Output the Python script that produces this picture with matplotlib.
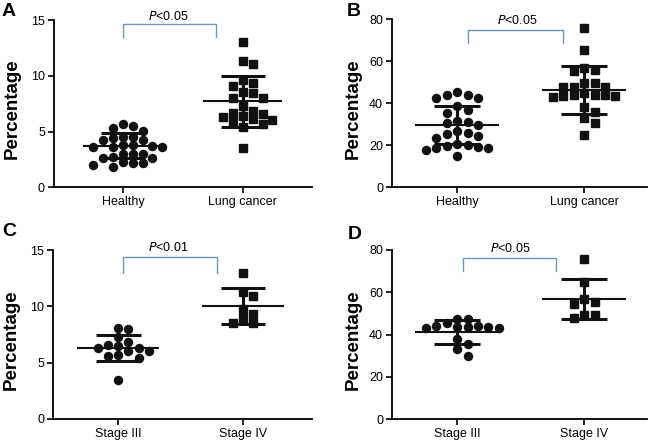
import numpy as np
import matplotlib.pyplot as plt

plt.rcParams['font.family'] = ['Liberation Sans', 'DejaVu Sans']

# categories
groups_ab = ['Healthy', 'Lung cancer']
groups_cd = ['Stage III', 'Stage IV']

# percentages
a_healthy = [5.65, 5.5, 5.35, 5.05, 4.55, 4.5, 4.4, 4.25, 4.25, 3.75, 3.75, 3.7,
             3.65, 3.65, 3.65, 3.0, 3.0, 2.95, 2.7, 2.65, 2.6, 2.25, 2.2, 2.15,
             2.0, 1.85]
a_lung = [13.05, 11.35, 11.05, 9.65, 9.35, 9.05, 8.55, 8.5, 8.0, 8.0, 7.25, 6.85,
          6.65, 6.6, 6.4, 6.3, 6.1, 6.05, 5.9, 5.7, 5.4, 3.5]
b_healthy = [45.5, 43.9, 43.9, 42.5, 42.5, 38.7, 36.8, 35.2, 31.6, 31.0, 30.5,
             29.5, 26.8, 25.7, 25.2, 24.5, 23.5, 20.5, 20.2, 19.7, 19.4, 18.9,
             18.5, 17.8, 14.9]
b_lung = [75.7, 65.4, 57.0, 55.9, 55.5, 49.5, 49.5, 47.9, 47.9, 47.9, 45.1, 43.9,
          43.9, 43.9, 43.5, 43.3, 43.1, 38.4, 36.0, 33.1, 30.5, 24.9]
c_stage3 = [8.1, 8.0, 7.25, 6.8, 6.6, 6.45, 6.3, 6.3, 6.05, 6.0, 5.65, 5.6, 5.4, 3.5]
c_stage4 = [13.0, 11.3, 10.9, 9.75, 9.3, 9.0, 8.55, 8.5]
d_stage3 = [47.5, 47.5, 45.5, 44.0, 44.0, 43.5, 43.5, 43.5, 43.0, 43.0, 38.0,
            35.5, 33.0, 30.0]
d_stage4 = [75.5, 65.0, 57.0, 55.5, 54.5, 49.0, 49.0, 47.8]

# mean and SD bars as drawn
a_mean, a_sd = [3.73, 7.72], [1.12, 2.27]
b_mean, b_sd = [29.6, 46.3], [9.2, 11.5]
c_mean, c_sd = [6.3, 10.03], [1.18, 1.58]
d_mean, d_sd = [41.1, 56.7], [5.65, 9.45]

p_texts = ['<0.05', '<0.05', '<0.01', '<0.05']

BLUE = '#6b97c9'


def swarm(values, step, gap):
    # greedy column placement, GraphPad-like
    values = np.asarray(values, float)
    offs = np.zeros(len(values))
    placed = []
    for i in np.argsort(values)[::-1]:
        y = values[i]
        for k in [0, 1, -1, 2, -2, 3, -3, 4, -4, 5, -5]:
            if all(abs(y - py) >= gap for c, py in placed if c == k):
                break
        placed.append((k, y))
        offs[i] = k * step
    return offs


def panel(rect, letter, letter_xy, groups, data, means, sds, ymax, xlim,
          bracket, ptext, text_xy, ylab_x):
    ax = fig.add_axes(rect)
    gap = 0.05 * ymax
    for i, (vals, marker) in enumerate(zip(data, ['o', 's'])):
        x = i + swarm(vals, 0.082, gap)
        ax.plot(x, vals, linestyle='none', marker=marker, color='#111111',
                markersize=5.8 if marker == 'o' else 5.2, zorder=3)
        m, s = means[i], sds[i]
        ax.hlines(m, i - 0.33, i + 0.33, color='#111111', lw=1.5, zorder=4)
        ax.vlines(i, m - s, m + s, color='#111111', lw=2.2, zorder=4)
        ax.hlines([m - s, m + s], i - 0.18, i + 0.18, color='#111111', lw=2.2,
                  zorder=4)

    x0, x1, ytop, ybot = bracket
    ax.plot([x0, x0, x1, x1], [ybot, ytop, ytop, ybot], color=BLUE, lw=1.0,
            clip_on=False)
    ax.text(text_xy[0], text_xy[1], r'$\it{P}$' + ptext, ha='center',
            va='center', fontsize=9, clip_on=False)

    ax.set_xlim(*xlim)
    ax.set_ylim(0, ymax)
    ax.set_yticks(np.linspace(0, ymax, 4 if ymax == 15 else 5))
    ax.set_xticks([0, 1])
    ax.set_xticklabels(groups)
    for side in ['top', 'right']:
        ax.spines[side].set_visible(False)
    for side in ['left', 'bottom']:
        ax.spines[side].set_linewidth(1.3)
    ax.tick_params(direction='out', length=4, width=1.2, labelsize=9, pad=2.5)
    ax.set_ylabel('Percentage', fontsize=13.5, fontweight='bold')
    ax.yaxis.set_label_coords(ylab_x, 0.47)
    fig.text(letter_xy[0] / 648, 1 - letter_xy[1] / 441, letter,
             fontsize=14, fontweight='bold', ha='left', va='center')
    return ax


fig = plt.figure(figsize=(6.48, 4.41), dpi=100)

panel([0.0833, 0.5753, 0.398, 0.3793], 'A', (2, 12), groups_ab,
      [a_healthy, a_lung], a_mean, a_sd, 15, (-0.575, 1.575),
      (0.0, 0.775, 14.65, 13.5), p_texts[0], (0.375, 15.3), -0.13)
panel([0.605, 0.5753, 0.3935, 0.381], 'B', (347, 11), groups_ab,
      [b_healthy, b_lung], b_mean, b_sd, 80, (-0.514, 1.496),
      (0.084, 0.83, 74.9, 68.9), p_texts[1], (0.47, 79.3), -0.12)
panel([0.0823, 0.0499, 0.399, 0.383], 'C', (2, 232), groups_cd,
      [c_stage3, c_stage4], c_mean, c_sd, 15, (-0.52, 1.552),
      (0.04, 0.79, 14.35, 13.0), p_texts[2], (0.4, 15.2), -0.13)
panel([0.605, 0.0494, 0.3935, 0.384], 'D', (348, 235), groups_cd,
      [d_stage3, d_stage4], d_mean, d_sd, 80, (-0.514, 1.496),
      (0.047, 0.78, 76.1, 69.8), p_texts[3], (0.42, 80.8), -0.12)

fig.savefig('out.png', dpi=100)
